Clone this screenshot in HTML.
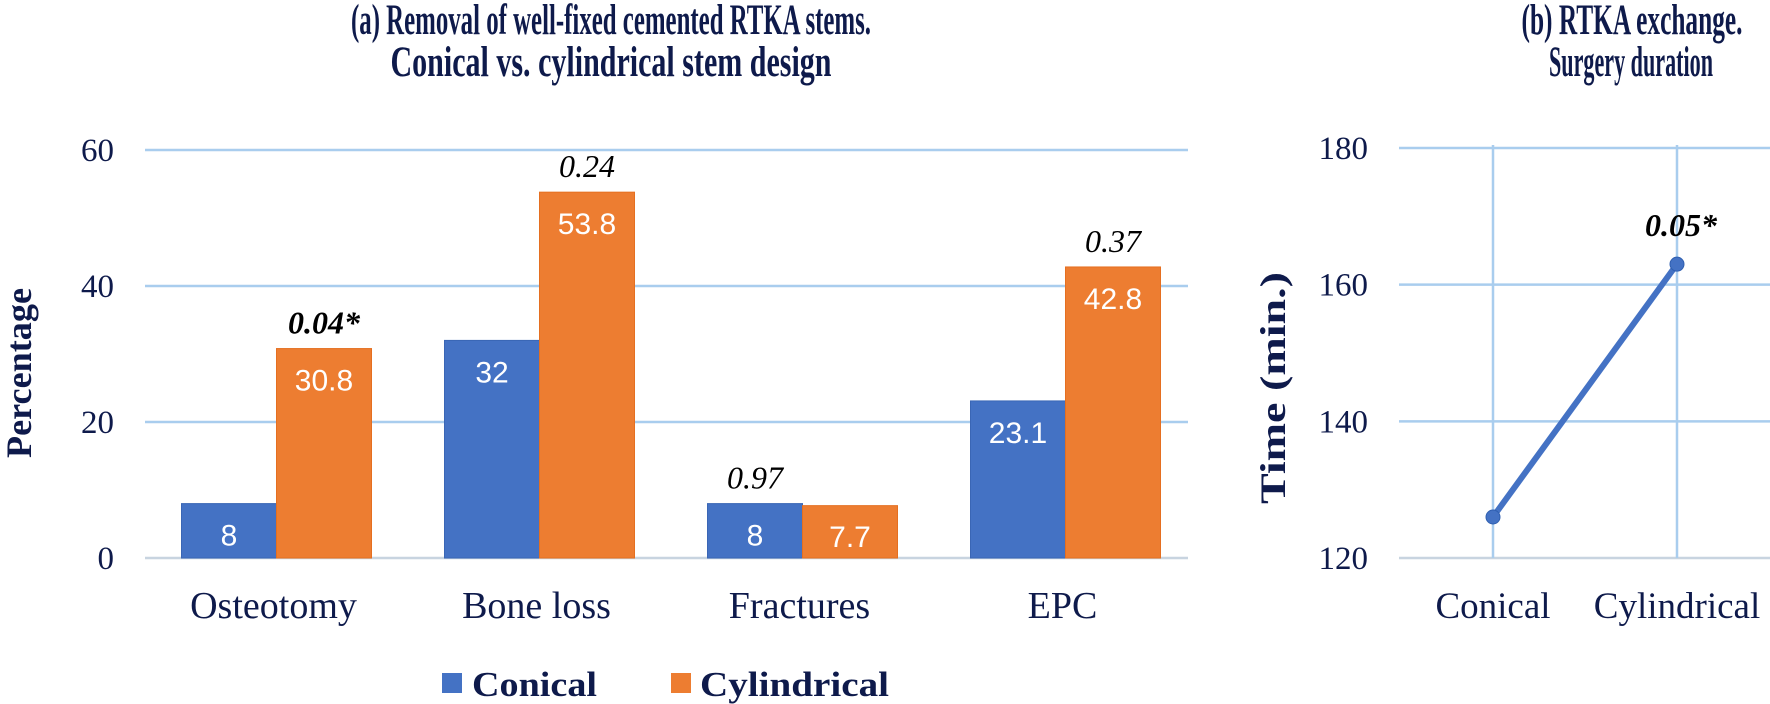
<!DOCTYPE html>
<html><head><meta charset="utf-8"><style>
html,body{margin:0;padding:0;background:#fff;}
svg{display:block;}
.serif{font-family:"Liberation Serif",serif;}
.sans{font-family:"Liberation Sans",sans-serif;}
</style></head><body>
<svg id="chart" width="1770" height="704" xmlns="http://www.w3.org/2000/svg">
<g id="left"></g>
<g id="right"></g>
</svg>
<script>
const categories = ["Osteotomy","Bone loss","Fractures","EPC"];
const conicalValues = [8,32,8,23.1];
const cylindricalValues = [30.8,53.8,7.7,42.8];
const pValues = ["0.04*","0.24","0.97","0.37"];
const pBold = [true,false,false,false];
const yTicks = [0,20,40,60];
const lineCategories = ["Conical","Cylindrical"];
const lineValues = [126,163];
const lineTicks = [120,140,160,180];
const lineP = "0.05*";

const NS="http://www.w3.org/2000/svg";
const NAVY="#0e1a4b", GRID="#a9cdee", BLUE="#4472c4", ORANGE="#ed7d31";
function mk(parent,tag,attrs,text){const e=document.createElementNS(NS,tag);for(const k in attrs)e.setAttribute(k,attrs[k]);if(text!==undefined)e.textContent=text;parent.appendChild(e);return e;}
const svg=document.getElementById('chart');
const L=document.getElementById('left'), R=document.getElementById('right');

// titles
let t=mk(svg,'text',{x:611,y:34,'text-anchor':'middle','font-size':43,'font-weight':'bold',fill:NAVY,class:'serif',textLength:520,lengthAdjust:'spacingAndGlyphs'},'(a) Removal of well-fixed cemented RTKA stems.');


t=mk(svg,'text',{x:611,y:76,'text-anchor':'middle','font-size':43,'font-weight':'bold',fill:NAVY,class:'serif',textLength:441,lengthAdjust:'spacingAndGlyphs'},'Conical vs. cylindrical stem design');


t=mk(svg,'text',{x:1632,y:34,'text-anchor':'middle','font-size':43,'font-weight':'bold',fill:NAVY,class:'serif',textLength:221,lengthAdjust:'spacingAndGlyphs'},'(b) RTKA exchange.');


t=mk(svg,'text',{x:1631,y:76,'text-anchor':'middle','font-size':43,'font-weight':'bold',fill:NAVY,class:'serif',textLength:164,lengthAdjust:'spacingAndGlyphs'},'Surgery duration');



// left axes
const y0=558, pxPer=136/20;
const yL=v=>y0-v*pxPer;
const bandStart=142, band=263;
const xC=i=>bandStart+band*(i+0.5)+3;
const barW=95;
yTicks.forEach(v=>{
  const g=mk(L,'line',{x1:145,x2:1188,y1:yL(v),y2:yL(v),stroke:v===0?'#c8d4e0':GRID,'stroke-width':2.5});
  
  
  const tl=mk(L,'text',{x:114,y:yL(v)+11,'text-anchor':'end','font-size':33,fill:NAVY,class:'serif'},String(v));
  
  
});
t=mk(L,'text',{transform:'translate(31,373) rotate(-90)','text-anchor':'middle','font-size':36,'font-weight':'bold',fill:NAVY,class:'serif',textLength:170,lengthAdjust:'spacingAndGlyphs'},'Percentage');



categories.forEach((c,i)=>{
  const cx=xC(i);
  const b1=mk(L,'rect',{x:cx-barW,y:yL(conicalValues[i]),width:barW,height:y0-yL(conicalValues[i]),fill:BLUE,stroke:'#3a66b5','stroke-width':1});
  
  
  const b2=mk(L,'rect',{x:cx,y:yL(cylindricalValues[i]),width:barW,height:y0-yL(cylindricalValues[i]),fill:ORANGE,stroke:'#e56f20','stroke-width':1});
  
  
  const l1=mk(L,'text',{x:cx-barW/2,y:Math.min(yL(conicalValues[i])+42, y0-11),'text-anchor':'middle','font-size':30,fill:'#fff',class:'sans'},String(conicalValues[i]));
  
  
  const l2=mk(L,'text',{x:cx+barW/2,y:Math.min(yL(cylindricalValues[i])+42,y0-11),'text-anchor':'middle','font-size':30,fill:'#fff',class:'sans'},String(cylindricalValues[i]));
  
  
  const hi=conicalValues[i]>cylindricalValues[i];
  const pm=Math.max(conicalValues[i],cylindricalValues[i]);
  const p=mk(L,'text',{x:hi?cx-barW/2:cx+barW/2,y:yL(pm)-15,'text-anchor':'middle','font-size':32,'font-style':'italic','font-weight':pBold[i]?'bold':'normal',fill:'#000',class:'serif'},pValues[i]);
  
  
  const cl=mk(L,'text',{x:cx-3,y:618,'text-anchor':'middle','font-size':38,fill:NAVY,class:'serif'},c);
  
  
});

// legend
let r=mk(L,'rect',{x:442,y:673,width:20,height:20,fill:BLUE});


t=mk(L,'text',{x:472,y:696,'font-size':35,'font-weight':'bold',fill:NAVY,class:'serif',textLength:125,lengthAdjust:'spacingAndGlyphs'},'Conical');


r=mk(L,'rect',{x:671,y:673,width:20,height:20,fill:ORANGE});


t=mk(L,'text',{x:700,y:696,'font-size':35,'font-weight':'bold',fill:NAVY,class:'serif',textLength:189,lengthAdjust:'spacingAndGlyphs'},'Cylindrical');



// right chart
const yR=v=>558-(v-120)*(410/60);
const xR=[1493,1677];
lineTicks.forEach(v=>{
  const g=mk(R,'line',{x1:1399,x2:1770,y1:yR(v),y2:yR(v),stroke:v===120?'#c8d4e0':GRID,'stroke-width':2.5});
  
  
  const tl=mk(R,'text',{x:1368,y:yR(v)+11,'text-anchor':'end','font-size':33,fill:NAVY,class:'serif'},String(v));
  
  
});
lineCategories.forEach((c,i)=>{
  const g=mk(R,'line',{x1:xR[i],x2:xR[i],y1:145,y2:558,stroke:GRID,'stroke-width':2.5});
  
  
  const cl=mk(R,'text',{x:xR[i],y:618,'text-anchor':'middle','font-size':37,fill:NAVY,class:'serif'},c);
  
  
});
t=mk(R,'text',{transform:'translate(1285,388) rotate(-90)','text-anchor':'middle','font-size':36,'font-weight':'bold',fill:NAVY,class:'serif',textLength:232,lengthAdjust:'spacingAndGlyphs'},'Time (min.)');


const ln=mk(R,'polyline',{points:lineValues.map((v,i)=>xR[i]+','+yR(v)).join(' '),fill:'none',stroke:BLUE,'stroke-width':6});


lineValues.forEach((v,i)=>{
  const c=mk(R,'circle',{cx:xR[i],cy:yR(v),r:7,fill:BLUE,stroke:'#2f5fb0','stroke-width':1});
  
  
});
t=mk(R,'text',{x:xR[1]+4,y:yR(lineValues[1])-28,'text-anchor':'middle','font-size':32,'font-style':'italic','font-weight':'bold',fill:'#000',class:'serif'},lineP);


</script>
</body></html>
